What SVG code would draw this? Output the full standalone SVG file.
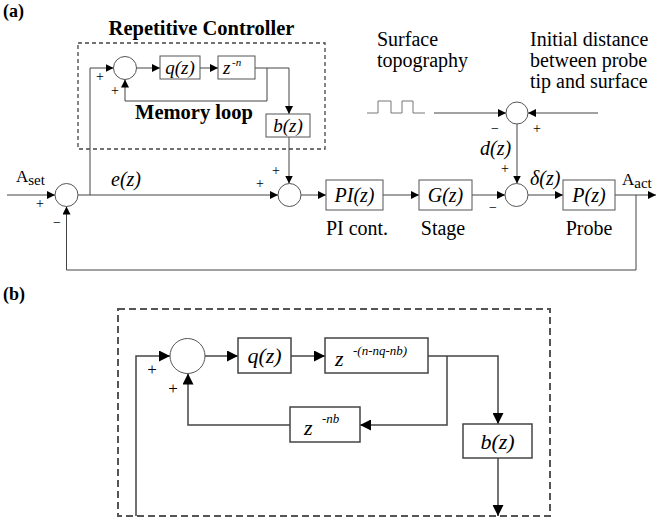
<svg xmlns="http://www.w3.org/2000/svg" width="657" height="521" viewBox="0 0 657 521" font-family="'Liberation Serif', 'Times New Roman', serif">
<defs>
<marker id="a" markerUnits="userSpaceOnUse" markerWidth="9" markerHeight="8" refX="8" refY="4" orient="auto"><path d="M0,0 L8,4 L0,8 Z" fill="#000"/></marker>
<marker id="b" markerUnits="userSpaceOnUse" markerWidth="12" markerHeight="11" refX="11" refY="5.5" orient="auto"><path d="M0,0 L11,5.5 L0,11 Z" fill="#000"/></marker>
</defs>
<style>
text{fill:#000}
.t{font-size:20px}
.i{font-size:20px;font-style:italic}
.bi{font-size:19px;font-style:italic}
.bd{font-size:20.5px;font-weight:bold}
.s{font-size:14px}
.box{fill:#fff;stroke:#555;stroke-width:1}
.boxb{fill:#fff;stroke:#444;stroke-width:1.5}
.sum{fill:#fff;stroke:#555;stroke-width:1}
.ln{fill:none;stroke:#444;stroke-width:1}
.lnb{fill:none;stroke:#444;stroke-width:1.5}
.dash{fill:none;stroke:#444;stroke-width:1.3;stroke-dasharray:4,3}
.dashb{fill:none;stroke:#555;stroke-width:2;stroke-dasharray:7,4}
</style>
<rect width="657" height="521" fill="#fff"/>

<text x="3" y="17" font-size="18" font-weight="bold">(a)</text>
<text x="3" y="300" font-size="18" font-weight="bold">(b)</text>

<g id="rc-frame">
<rect x="78" y="43" width="247" height="106" class="dash"/>
<text x="201.5" y="34.5" class="bd" text-anchor="middle">Repetitive Controller</text>
<text x="194" y="119" class="bd" text-anchor="middle">Memory loop</text>
</g>

<g id="connectors-a">
<path d="M7,195 H55" class="ln" marker-end="url(#a)"/>
<path d="M78,195 H278" class="ln" marker-end="url(#a)"/>
<path d="M90,195 V68 H113.5" class="ln" marker-end="url(#a)"/>
<path d="M136.5,68 H160" class="ln" marker-end="url(#a)"/>
<path d="M200,68 H218" class="ln" marker-end="url(#a)"/>
<path d="M255,68 H289 V114" class="ln" marker-end="url(#a)"/>
<path d="M267,68 V101 H125 V79.5" class="ln" marker-end="url(#a)"/>
<path d="M289,137 V183.5" class="ln" marker-end="url(#a)"/>
<path d="M301,195 H326" class="ln" marker-end="url(#a)"/>
<path d="M383,195 H419" class="ln" marker-end="url(#a)"/>
<path d="M472,195 H505" class="ln" marker-end="url(#a)"/>
<path d="M528,195 H563" class="ln" marker-end="url(#a)"/>
<path d="M615,195 H656" class="ln" marker-end="url(#a)"/>
<path d="M636,195 V270 H66.5 V206.5" class="ln" marker-end="url(#a)"/>
<path d="M434,113 H506" class="ln" marker-end="url(#a)"/>
<path d="M598,113 H528" class="ln" marker-end="url(#a)"/>
<path d="M517,124 V183.5" class="ln" marker-end="url(#a)"/>
<path d="M367,113 H378 V101 H391 V113 H402 V101 H413 V113 H425" fill="none" stroke="#777" stroke-width="1"/>
</g>

<g id="sum1"><circle cx="66.5" cy="195" r="11.5" class="sum"/></g>
<g id="sum-rc"><circle cx="125" cy="68" r="11.5" class="sum"/></g>
<g id="sum2"><circle cx="289.5" cy="195" r="11.5" class="sum"/></g>
<g id="sum3"><circle cx="516.5" cy="195" r="11.5" class="sum"/></g>
<g id="sum4"><circle cx="517" cy="113" r="11" class="sum"/></g>

<g id="qz-a"><rect x="160" y="56" width="40" height="23" class="box"/><text x="180" y="73.5" class="bi" text-anchor="middle">q(z)</text></g>
<g id="zn-a"><rect x="218" y="56" width="37" height="23" class="box"/><text x="223" y="74" class="bi">z</text><text x="232" y="66" font-size="11" font-style="italic">-n</text></g>
<g id="bz-a"><rect x="266" y="114" width="44" height="23" class="box"/><text x="288" y="131.5" class="bi" text-anchor="middle">b(z)</text></g>
<g id="pi"><rect x="326" y="180" width="57" height="30" class="box"/><text x="354.5" y="202" class="i" text-anchor="middle">PI(z)</text><text x="357" y="235" class="t" text-anchor="middle">PI cont.</text></g>
<g id="gz"><rect x="419" y="180" width="53" height="30" class="box"/><text x="445.5" y="202" class="i" text-anchor="middle">G(z)</text><text x="443" y="235" class="t" text-anchor="middle">Stage</text></g>
<g id="pz"><rect x="563" y="180" width="52" height="30" class="box"/><text x="589" y="202" class="i" text-anchor="middle">P(z)</text><text x="589" y="235" class="t" text-anchor="middle">Probe</text></g>

<g id="labels-a">
<text x="16" y="182" font-size="17">A<tspan font-size="15" dy="3">set</tspan></text>
<text x="622" y="185" font-size="17">A<tspan font-size="15" dy="3">act</tspan></text>
<text x="111" y="186" class="i">e(z)</text>
<text x="530" y="185" class="i">δ(z)</text>
<text x="480" y="155" class="i">d(z)</text>
<text x="377" y="46" class="t">Surface</text>
<text x="377" y="67" class="t">topography</text>
<text x="530" y="46" class="t">Initial distance</text>
<text x="530" y="67" class="t">between probe</text>
<text x="530" y="88" class="t">tip and surface</text>
<text x="40" y="208" class="s" text-anchor="middle">+</text>
<text x="57" y="227" class="s" text-anchor="middle">−</text>
<text x="100" y="81" class="s" text-anchor="middle">+</text>
<text x="115" y="95" class="s" text-anchor="middle">+</text>
<text x="260" y="188" class="s" text-anchor="middle">+</text>
<text x="276" y="175" class="s" text-anchor="middle">+</text>
<text x="505" y="173" class="s" text-anchor="middle">+</text>
<text x="493" y="212" class="s" text-anchor="middle">−</text>
<text x="495" y="133" class="s" text-anchor="middle">−</text>
<text x="537" y="133" class="s" text-anchor="middle">+</text>
</g>

<g id="frame-b"><rect x="118" y="309" width="432" height="207" class="dashb"/></g>

<g id="connectors-b">
<path d="M136,516 V356 H170" class="lnb" marker-end="url(#b)"/>
<path d="M205,356 H238" class="lnb" marker-end="url(#b)"/>
<path d="M291,356 H325" class="lnb" marker-end="url(#b)"/>
<path d="M428,356 H498 V424" class="lnb" marker-end="url(#b)"/>
<path d="M447,356 V425 H360" class="lnb" marker-end="url(#b)"/>
<path d="M290,425 H188 V373.5" class="lnb" marker-end="url(#b)"/>
<path d="M498,458 V516" class="lnb" marker-end="url(#b)"/>
</g>

<g id="sum-b"><circle cx="187.5" cy="356" r="17.5" class="sum"/></g>
<g id="qz-b"><rect x="238" y="338" width="53" height="35" class="boxb"/><text x="264.5" y="363" font-size="22" font-style="italic" text-anchor="middle">q(z)</text></g>
<g id="zd-b"><rect x="325" y="338" width="103" height="35" class="boxb"/><text x="335" y="366" font-size="22" font-style="italic">z</text><text x="353" y="355" font-size="13" font-style="italic">-(n-nq-nb)</text></g>
<g id="znb-b"><rect x="290" y="407" width="70" height="35" class="boxb"/><text x="304" y="435" font-size="22" font-style="italic">z</text><text x="322" y="423" font-size="13" font-style="italic">-nb</text></g>
<g id="bz-b"><rect x="463" y="424" width="69" height="34" class="boxb"/><text x="497.5" y="449" font-size="22" font-style="italic" text-anchor="middle">b(z)</text></g>
<g id="labels-b">
<text x="152" y="375" font-size="17" text-anchor="middle">+</text>
<text x="173" y="394" font-size="17" text-anchor="middle">+</text>
</g>
</svg>
